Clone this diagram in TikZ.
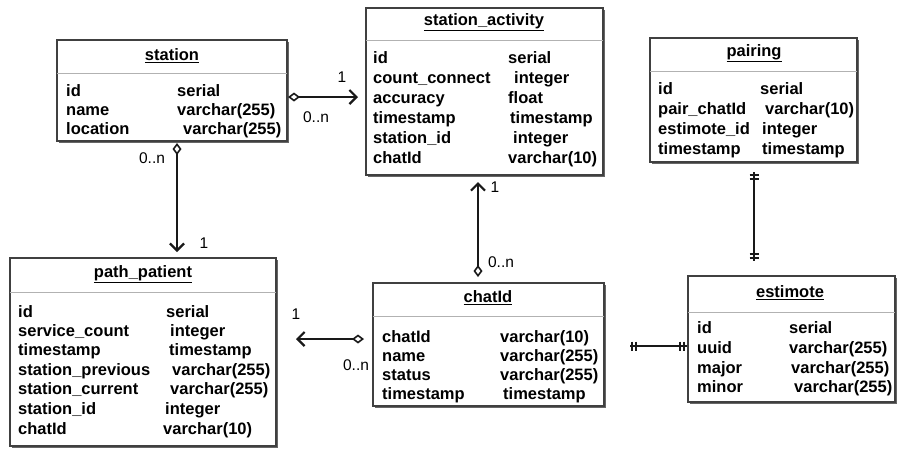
\documentclass[tikz,border=0pt]{standalone}
\usepackage{fontspec}
\setmainfont{Liberation Sans}
\usetikzlibrary{arrows.meta,shadows}
\begin{document}
\begin{tikzpicture}[x=1pt,y=-1pt,
  tbl/.style={draw=black!75, line width=1.6pt, fill=white, anchor=north west,
    inner sep=0pt, outer sep=0pt,
    drop shadow={shadow xshift=2pt, shadow yshift=-2pt, fill=black!60, opacity=1}},
  sepline/.style={draw=black!30, line width=0.8pt},
  ttl/.style={font=\fontsize{16.5}{18}\selectfont\bfseries, inner sep=0pt},
  fld/.style={font=\fontsize{16.5}{18}\selectfont\bfseries, anchor=base west, inner sep=0pt},
  card/.style={font=\fontsize{15.5}{17}\selectfont, inner sep=0pt},
  conn/.style={line width=2pt, black!90},
  agg/.style={conn, {Diamond[open, length=12pt, width=9pt, line width=1.6pt]}-{Straight Barb[length=7pt, width=14pt, line width=2.2pt]}},
  barmark/.style={line width=1.6pt, black!90},
  oneone/.style={conn, line width=1.8pt}
]
\useasboundingbox (0,0) rectangle (897,451);

% ---------- station ----------
\node[tbl, minimum width=230pt, minimum height=101pt] (station) at (57,40) {};
\draw[sepline] (57,73) -- (287,73);
\node[ttl] (stationT) at (172,56) {\underline{station}};
\node[fld] (s1) at (66,96) {id};
\node[fld] (s2) at (66,115) {name};
\node[fld] (s3) at (66,134) {location};
\node[fld] (s1t) at (177,96) {serial};
\node[fld] (s2t) at (177,115) {varchar(255)};
\node[fld] (s3t) at (183,134) {varchar(255)};

% ---------- station_activity ----------
\node[tbl, minimum width=237pt, minimum height=167pt] (sa) at (366,8) {};
\draw[sepline] (366,40) -- (603,40);
\node[ttl] (saT) at (484,22) {\underline{station\_activity}};
\node[fld] (a1) at (373,63) {id};
\node[fld] (a2) at (373,83) {count\_connect};
\node[fld] (a3) at (373,103) {accuracy};
\node[fld] (a4) at (373,123) {timestamp};
\node[fld] (a5) at (373,143) {station\_id};
\node[fld] (a6) at (373,163) {chatId};
\node[fld] (a1t) at (508,63) {serial};
\node[fld] (a2t) at (514,83) {integer};
\node[fld] (a3t) at (508,103) {float};
\node[fld] (a4t) at (510,123) {timestamp};
\node[fld] (a5t) at (513,143) {integer};
\node[fld] (a6t) at (508,163) {varchar(10)};

% ---------- pairing ----------
\node[tbl, minimum width=207pt, minimum height=124pt] (pairing) at (650,38) {};
\draw[sepline] (650,71) -- (857,71);
\node[ttl] (pT) at (754,53) {\underline{pairing}};
\node[fld] (p1) at (658,94) {id};
\node[fld] (p2) at (658,114) {pair\_chatId};
\node[fld] (p3) at (658,134) {estimote\_id};
\node[fld] (p4) at (658,154) {timestamp};
\node[fld] (p1t) at (760,94) {serial};
\node[fld] (p2t) at (765,114) {varchar(10)};
\node[fld] (p3t) at (762,134) {integer};
\node[fld] (p4t) at (762,154) {timestamp};

% ---------- path_patient ----------
\node[tbl, minimum width=266pt, minimum height=188pt] (pp) at (10,258) {};
\draw[sepline] (10,292) -- (276,292);
\node[ttl] (ppT) at (143,274) {\underline{path\_patient}};
\node[fld] (q1) at (18,317) {id};
\node[fld] (q2) at (18,336) {service\_count};
\node[fld] (q3) at (18,355) {timestamp};
\node[fld] (q4) at (18,375) {station\_previous};
\node[fld] (q5) at (18,394) {station\_current};
\node[fld] (q6) at (18,414) {station\_id};
\node[fld] (q7) at (18,434) {chatId};
\node[fld] (q1t) at (166,317) {serial};
\node[fld] (q2t) at (170,336) {integer};
\node[fld] (q3t) at (169,355) {timestamp};
\node[fld] (q4t) at (172,375) {varchar(255)};
\node[fld] (q5t) at (170,394) {varchar(255)};
\node[fld] (q6t) at (165,414) {integer};
\node[fld] (q7t) at (163,434) {varchar(10)};

% ---------- chatId ----------
\node[tbl, minimum width=231pt, minimum height=123pt] (chat) at (373,283) {};
\draw[sepline] (373,316) -- (604,316);
\node[ttl] (cT) at (488,298) {\underline{chatId}};
\node[fld] (c1) at (382,342) {chatId};
\node[fld] (c2) at (382,361) {name};
\node[fld] (c3) at (382,380) {status};
\node[fld] (c4) at (382,399) {timestamp};
\node[fld] (c1t) at (500,342) {varchar(10)};
\node[fld] (c2t) at (500,361) {varchar(255)};
\node[fld] (c3t) at (500,380) {varchar(255)};
\node[fld] (c4t) at (503,399) {timestamp};

% ---------- estimote ----------
\node[tbl, minimum width=207pt, minimum height=126pt] (est) at (688,276) {};
\draw[sepline] (688,312) -- (895,312);
\node[ttl] (eT) at (790,293) {\underline{estimote}};
\node[fld] (e1) at (697,333) {id};
\node[fld] (e2) at (697,353) {uuid};
\node[fld] (e3) at (697,373) {major};
\node[fld] (e4) at (697,392) {minor};
\node[fld] (e1t) at (789,333) {serial};
\node[fld] (e2t) at (789,353) {varchar(255)};
\node[fld] (e3t) at (791,373) {varchar(255)};
\node[fld] (e4t) at (794,392) {varchar(255)};

% ---------- connectors ----------
\draw[agg, shorten <=1pt, shorten >=8pt] (station.east |- 0,97) -- (sa.west |- 0,97);
\node[card] at (342,77) {1};
\node[card] at (316,117) {0..n};

\draw[agg, shorten <=2pt, shorten >=6pt] (station.south -| 177,0) -- (pp.north -| 177,0);
\node[card] at (152,158) {0..n};
\node[card] at (204,243) {1};

\draw[agg, shorten <=6pt, shorten >=7pt] (chat.north -| 478,0) -- (sa.south -| 478,0);
\node[card] at (495,187) {1};
\node[card] at (501,262) {0..n};

\draw[agg, shorten <=9pt, shorten >=20pt] (chat.west |- 0,339) -- (pp.east |- 0,339);
\node[card] at (296,314) {1};
\node[card] at (356,365) {0..n};

% one-to-one links with double bars
\draw[oneone, shorten <=26pt, shorten >=1pt] (chat.east |- 0,346) -- (est.west |- 0,346);
\foreach \bx in {632,636,680,684} \draw[barmark] (\bx,341.5) -- (\bx,350.5);
\draw[oneone, shorten <=10pt, shorten >=15pt] (pairing.south -| 754,0) -- (est.north -| 754,0);
\foreach \by in {175,179,254,258} \draw[barmark] (749.5,\by) -- (758.5,\by);
\end{tikzpicture}
\end{document}
